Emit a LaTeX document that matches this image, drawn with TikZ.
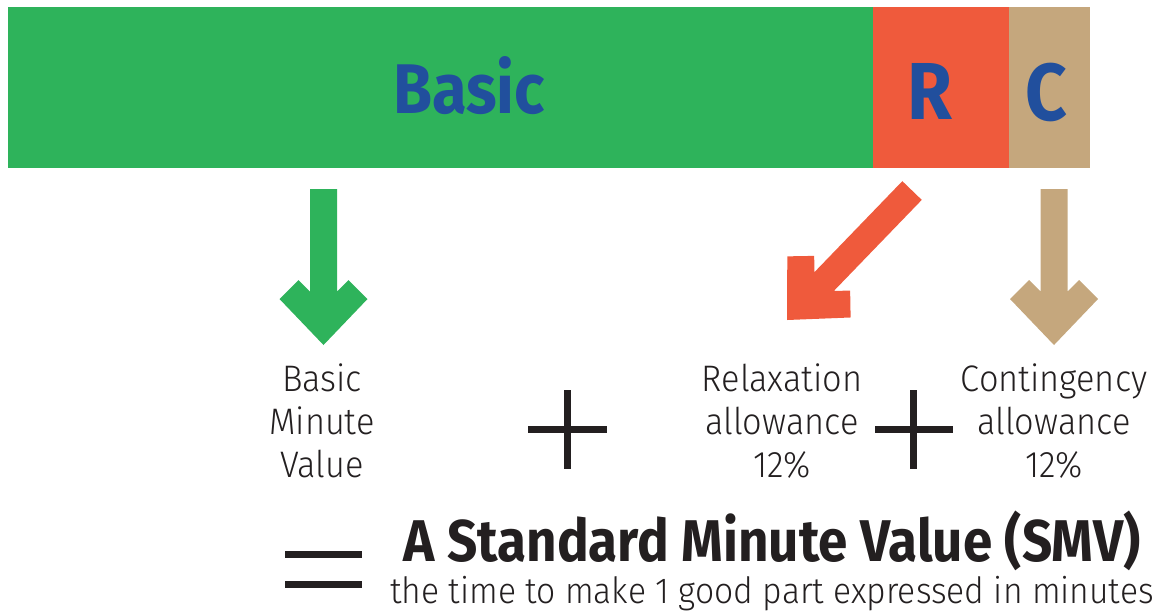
\documentclass[tikz,border=0pt]{standalone}
\usepackage{fontspec}
\setmainfont{Fira Sans Light}[FakeStretch=0.93]
\newfontfamily\heavy{Fira Sans Bold}[FakeStretch=0.9]
\usetikzlibrary{positioning}
\newcommand{\px}{0.02cm}
\definecolor{basicgreen}{HTML}{2EB35B}
\definecolor{relaxred}{HTML}{EF5A3C}
\definecolor{contan}{HTML}{C5A77D}
\definecolor{letterblue}{HTML}{214F9D}
\definecolor{ink}{HTML}{231F20}
\tikzset{
    bar style/.style={inner sep=0pt,outer sep=0pt,minimum height=3.22cm},
    letter style/.style={text=letterblue,inner sep=0pt,anchor=base},
    label style/.style={text=ink,align=center,inner sep=0pt,
                        font=\fontsize{21}{24.4}\selectfont},
    sign style/.style={draw=ink,line width=0.14cm},
    pics/fat arrow/.style 2 args={code={
        \fill[#2] (-13.5,-#1) -- (-13.5,-53.5) -- (-25,-65) -- (-44,-46) -- (0,0)
               -- (44,-46) -- (25,-65) -- (13.5,-53.5) -- (13.5,-#1) -- cycle;
    }},
}

\begin{document}
\begin{tikzpicture}[x=\px,y=-\px]
\useasboundingbox (0,0) rectangle (1159,613);
% the bar
\node[bar style,fill=basicgreen,minimum width=17.3cm,anchor=north west] (basic) at (8,7) {};
\node[bar style,fill=relaxred,minimum width=2.72cm,right=0pt of basic] (relax) {};
\node[bar style,fill=contan,minimum width=1.62cm,right=0pt of relax] (cont) {};
\node[letter style,font=\heavy\fontsize{40}{40}\selectfont] (basictxt) at (469,113) {Basic};
\node[letter style,font=\heavy\fontsize{46}{46}\selectfont] (rtxt) at (930,119) {R};
\node[letter style,font=\heavy\fontsize{46}{46}\selectfont] (ctxt) at (1046,120) {C};

% the arrows
\pic at (323.5,345) {fat arrow={156}{basicgreen}};
\pic[rotate=-44] at (787,320) {fat arrow={180}{relaxred}};
\pic at (1054,345) {fat arrow={156}{contan}};

% the sum
\node[label style] (bmv) at (322,421) {Basic\\Minute\\Value};
\node[label style] (relaxtxt) at (782,421) {Relaxation\\allowance\\12\%};
\node[label style] (conttxt) at (1054,421) {Contingency\\allowance\\12\%};
\draw[sign style] (528,429) -- (607,429) (567.5,390) -- (567.5,469);
\draw[sign style] (875,429) -- (953,429) (913.5,390) -- (913.5,469);

% the result
\draw[sign style] (285,554) -- (362,554) (285,584) -- (362,584);
\node[text=ink,inner sep=0pt,anchor=base,font=\heavy\fontsize{33.5}{33.5}\selectfont]
    (smv) at (772,561) {A Standard Minute Value (SMV)};
\node[text=ink,inner sep=0pt,anchor=base,font=\fontsize{20.6}{20.6}\selectfont]
    (smvdef) at (772,603) {the time to make 1 good part expressed in minutes};
\end{tikzpicture}
\end{document}
